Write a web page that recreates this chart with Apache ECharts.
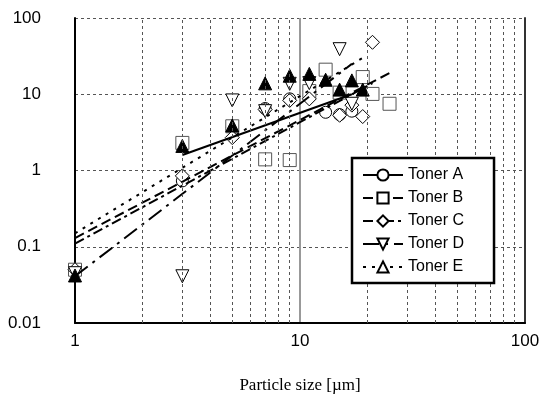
<!DOCTYPE html>
<html>
<head>
<meta charset="utf-8">
<script src="https://cdn.jsdelivr.net/npm/echarts@6/dist/echarts.min.js"></script>
<style>
  html, body { margin: 0; padding: 0; background: #fff; }
  #main { width: 545px; height: 394px; }
</style>
</head>
<body>
<div id="main"></div>
<script>
// measured points
const tonerA_x = [3, 5, 7, 9, 11, 13, 15, 17];
const tonerA_y = [0.73, 3.7, 6.5, 8.7, 11, 5.8, 5.4, 6.0];
const tonerB_x = [1, 3, 5, 7, 9, 11, 13, 15, 19, 21, 25];
const tonerB_y = [0.05, 2.3, 3.8, 1.4, 1.37, 11, 21, 10.5, 16.8, 10.1, 7.5];
const tonerC_x = [1, 3, 5, 7, 9, 11, 15, 17, 19, 21];
const tonerC_y = [0.05, 0.85, 2.7, 6.3, 8.3, 8.7, 5.3, 7.2, 5.1, 48];
const tonerD_x = [1, 3, 5, 7, 9, 11, 15, 17];
const tonerD_y = [0.045, 0.041, 8.3, 6.0, 13.7, 14, 39, 7.5];
const tonerE_x = [1, 3, 5, 7, 9, 11, 13, 15, 17, 19];
const tonerE_y = [0.042, 2.1, 3.9, 13.9, 17.5, 18.5, 15.5, 11.5, 15.2, 11.5];

// fitted power lines (end points)
const fitA = [[3, 1.6], [17, 10]];
const fitB = [[1, 0.13], [25, 19]];
const fitC = [[1, 0.11], [21, 14]];
const fitD = [[1, 0.041], [17, 25]];
const fitE = [[1, 0.15], [19, 30]];

const names = ['Toner A', 'Toner B', 'Toner C', 'Toner D', 'Toner E'];
const minorX = [2, 3, 4, 5, 6, 7, 8, 9, 20, 30, 40, 50, 60, 70, 80, 90];

const zip = (xs, ys) => xs.map((x, i) => [x, ys[i]]);

const chart = echarts.init(document.getElementById('main'));

// per toner look
const looks = [
  {sym: 'circle', size: 12, rot: 0, fill: '#fff', stroke: '#000', dash: 'solid', pts: zip(tonerA_x, tonerA_y), fit: fitA},
  {sym: 'rect', size: 13, rot: 0, fill: '#fff', stroke: '#555', dash: [10, 5], pts: zip(tonerB_x, tonerB_y), fit: fitB},
  {sym: 'diamond', size: 14, rot: 0, fill: '#fff', stroke: '#000', dash: [10, 4, 3, 4], pts: zip(tonerC_x, tonerC_y), fit: fitC},
  {sym: 'triangle', size: 13, rot: 180, fill: '#fff', stroke: '#000', dash: [16, 6, 3, 6], pts: zip(tonerD_x, tonerD_y), fit: fitD},
  {sym: 'triangle', size: 13, rot: 0, fill: '#000', stroke: '#000', dash: [3, 6], pts: zip(tonerE_x, tonerE_y), fit: fitE}
];

let series = [];
// fit lines first so the legend icon is line + symbol
looks.forEach((lk, i) => {
  series.push({
    type: 'line',
    name: names[i],
    data: lk.fit,
    showSymbol: false,
    symbol: lk.sym,
    symbolRotate: lk.rot,
    symbolSize: lk.size,
    itemStyle: {color: '#fff', borderColor: '#000', borderWidth: 1},
    lineStyle: {color: '#000', width: 2, type: lk.dash},
    silent: true,
    z: 4
  });
});
looks.forEach((lk, i) => {
  series.push({
    type: 'scatter',
    name: names[i],
    data: lk.pts,
    symbol: lk.sym,
    symbolRotate: lk.rot,
    symbolSize: lk.size,
    itemStyle: {color: lk.fill, borderColor: lk.stroke, borderWidth: 1, opacity: 1},
    z: 3
  });
});
// minor vertical grid
series.push({
  type: 'line',
  data: [],
  silent: true,
  z: 1,
  markLine: {
    silent: true,
    symbol: 'none',
    label: {show: false},
    lineStyle: {color: '#555', type: [3, 3], width: 1},
    data: minorX.map(v => ({xAxis: v}))
  }
});

const labelFont = {fontFamily: 'Liberation Sans', fontSize: 17, color: '#000'};

chart.setOption({
  animation: false,
  grid: {left: 75, right: 20, top: 18, bottom: 71, containLabel: false, outerBoundsMode: 'none'},
  legend: {
    data: names,
    orient: 'vertical',
    left: 352,
    top: 158,
    padding: [9, 30, 8, 10],
    itemGap: 7,
    itemWidth: 40,
    itemHeight: 14,
    backgroundColor: '#fff',
    borderColor: '#000',
    borderWidth: 2.5,
    textStyle: {fontFamily: 'Liberation Sans', fontSize: 16, color: '#000'},
    z: 10
  },
  xAxis: {
    type: 'log',
    logBase: 10,
    min: 1,
    max: 100,
    name: 'Particle size [µm]',
    nameLocation: 'middle',
    nameGap: 54,
    nameTextStyle: {fontFamily: 'Liberation Serif', fontSize: 17, color: '#000'},
    axisLine: {lineStyle: {color: '#000', width: 2}},
    axisTick: {show: false},
    axisLabel: Object.assign({margin: 10}, labelFont),
    splitLine: {show: true, lineStyle: {color: '#999', width: 2, type: 'solid'}}
  },
  yAxis: [
    {
      type: 'log',
      logBase: 10,
      min: 0.01,
      max: 100,
      name: 'Fa [nN]',
      nameLocation: 'middle',
      nameGap: 56,
      nameRotate: 90,
      nameTextStyle: {fontFamily: 'Liberation Serif', fontSize: 16, color: '#000'},
      axisLine: {lineStyle: {color: '#000', width: 2}},
      axisTick: {show: false},
      axisLabel: Object.assign({margin: 34}, labelFont),
      splitLine: {show: true, lineStyle: {color: '#555', width: 1, type: [3, 3]}}
    },
    {
      // right frame edge
      type: 'log',
      logBase: 10,
      min: 0.01,
      max: 100,
      position: 'right',
      axisLine: {show: true, lineStyle: {color: '#333', width: 2}},
      axisTick: {show: false},
      axisLabel: {show: false},
      splitLine: {show: false}
    }
  ],
  series: series
});
</script>
</body>
</html>
